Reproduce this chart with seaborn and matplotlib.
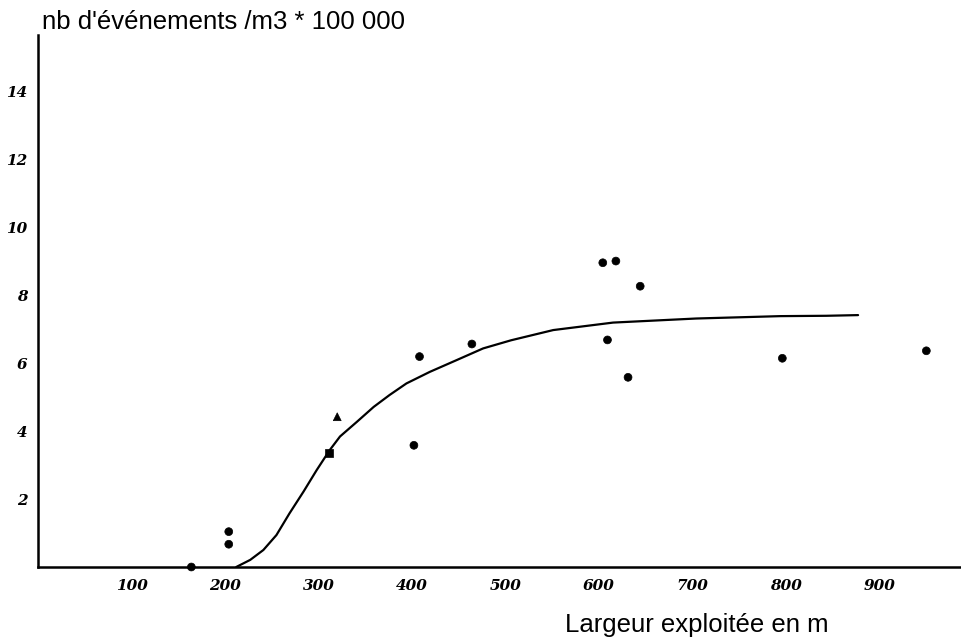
import matplotlib
matplotlib.use("Agg")
import matplotlib.pyplot as plt
import seaborn as sns
import pandas as pd

# Data
pt_x = [164, 204, 204, 311, 320, 402, 408, 464, 604, 618, 609, 631, 644, 796, 950]
pt_y = [0.0, 1.04, 0.67, 3.36, 4.42, 3.58, 6.19, 6.56, 8.95, 9.00, 6.68, 5.58, 8.26, 6.14, 6.36]
pt_kind = ["rond", "rond", "rond", "carré", "triangle", "rond", "rond", "rond",
           "rond", "rond", "rond", "rond", "rond", "rond", "rond"]

curve_x = [212, 227, 241, 255, 269, 284, 298, 312, 323, 341, 359, 376, 394,
           419, 448, 476, 506, 551, 615, 704, 794, 843, 877]
curve_y = [0.0, 0.21, 0.50, 0.94, 1.58, 2.22, 2.85, 3.44, 3.84, 4.27, 4.71, 5.06, 5.40,
           5.74, 6.09, 6.43, 6.67, 6.97, 7.19, 7.31, 7.38, 7.39, 7.41]

x_ticks = [100, 200, 300, 400, 500, 600, 700, 800, 900]
y_ticks = [2, 4, 6, 8, 10, 12, 14]

title = "nb d'événements /m3 * 100 000"
xlabel = "Largeur exploitée en m"

pts = pd.DataFrame({"x": pt_x, "y": pt_y, "kind": pt_kind})
crv = pd.DataFrame({"x": curve_x, "y": curve_y})

sns.set_theme(style="white")
plt.rcParams["font.family"] = ["Liberation Sans", "DejaVu Sans"]

fig = plt.figure(figsize=(9.62, 6.44), dpi=100)
ax = fig.add_axes([38 / 962, 77 / 644, 922 / 962, 532 / 644])

sns.lineplot(data=crv, x="x", y="y", ax=ax, color="black", linewidth=1.6,
             sort=True, estimator=None)
sns.scatterplot(data=pts, x="x", y="y", style="kind",
                markers={"rond": "o", "carré": "s", "triangle": "^"},
                color="black", s=32, edgecolor="black", linewidth=0.5,
                ax=ax, legend=False, clip_on=False, zorder=5)

ax.set_xlim(0, 986)
ax.set_ylim(0, 15.65)
ax.set_xticks(x_ticks)
ax.set_yticks(y_ticks)
ax.set_xticklabels([str(v) for v in x_ticks], fontstyle="italic",
                   fontweight="bold", fontsize=11, family="DejaVu Serif")
ax.set_yticklabels([str(v) for v in y_ticks], fontstyle="italic",
                   fontweight="bold", fontsize=11, family="DejaVu Serif")
ax.tick_params(axis="both", direction="inout", length=5, width=1, color="black",
               labelcolor="black")
ax.tick_params(axis="x", pad=6)
ax.tick_params(axis="y", pad=5)

for side in ["top", "right"]:
    ax.spines[side].set_visible(False)
for side in ["left", "bottom"]:
    ax.spines[side].set_color("black")
    ax.spines[side].set_linewidth(1.8)

ax.set_xlabel("")
ax.set_ylabel("")

fig.text(42 / 962, 1 - 22 / 644, title, fontsize=18.5, ha="left", va="center",
         color="black")
fig.text(697 / 962, 1 - 625 / 644, xlabel, fontsize=18.5, ha="center", va="center",
         color="black")

fig.savefig("out.png", dpi=100, facecolor="white")
